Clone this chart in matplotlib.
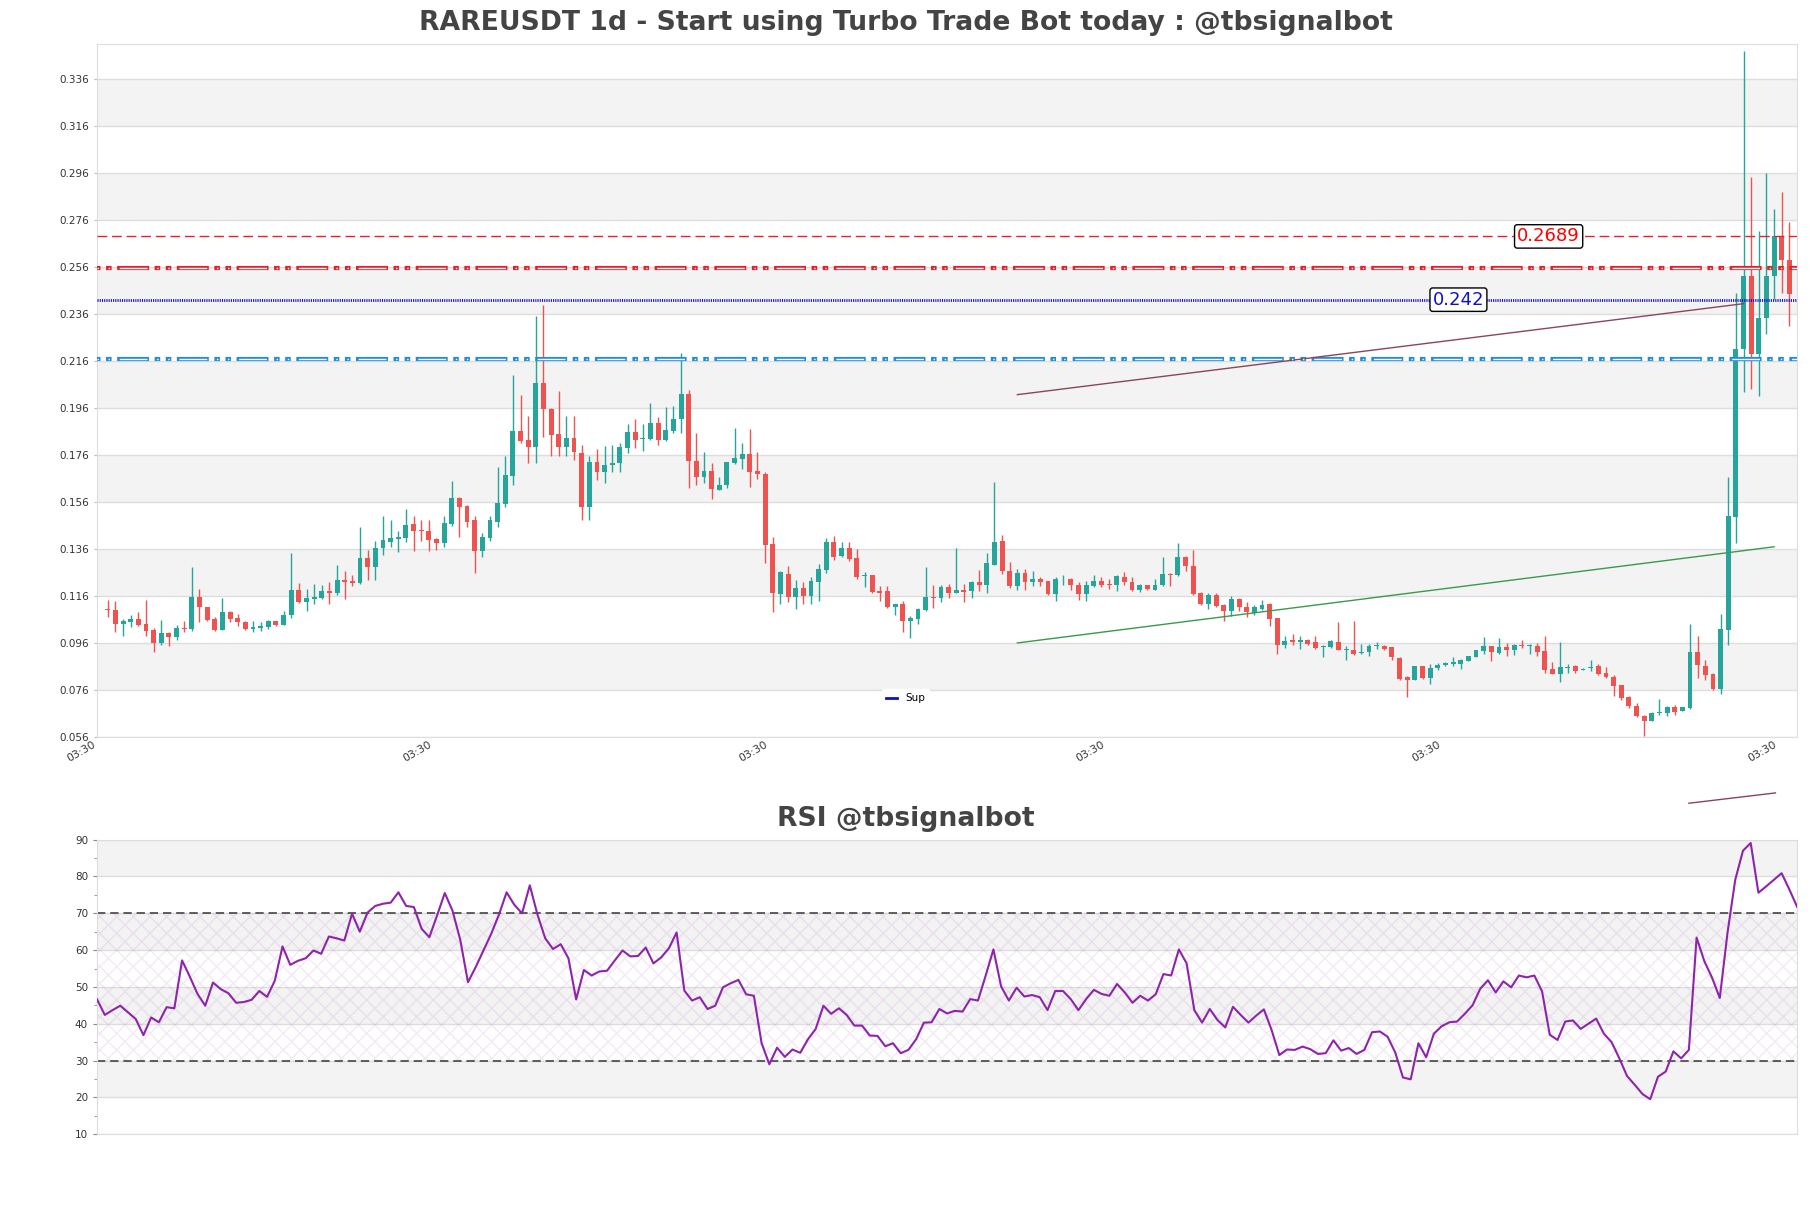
import numpy as np
import matplotlib
matplotlib.use('Agg')
import matplotlib.pyplot as plt
from matplotlib.lines import Line2D

# ---------------- data ----------------
opens = [0.1103,0.1100,0.1039,0.1049,0.1062,0.1041,0.1015,0.0959,0.1004,0.0987,
 0.1025,0.1018,0.1157,0.1112,0.1062,0.1015,0.1092,0.1065,0.1051,0.1021,
 0.1025,0.1027,0.1054,0.1037,0.1079,0.1186,0.1134,0.1149,0.1153,0.1183,
 0.1171,0.1228,0.1224,0.1217,0.1323,0.1285,0.1363,0.1391,0.1404,0.1408,
 0.1466,0.1441,0.1438,0.1403,0.1387,0.1466,0.1576,0.1543,0.1483,0.1353,
 0.1408,0.1476,0.1551,0.1672,0.1862,0.1824,0.1793,0.2065,0.1956,0.1848,
 0.1795,0.1831,0.1767,0.1540,0.1729,0.1689,0.1718,0.1725,0.1791,0.1856,
 0.1828,0.1826,0.1895,0.1824,0.1863,0.1912,0.2018,0.1734,0.1664,0.1692,
 0.1611,0.1631,0.1725,0.1743,0.1764,0.1692,0.1679,0.1381,0.1169,0.1254,
 0.1157,0.1195,0.1160,0.1221,0.1271,0.1391,0.1330,0.1363,0.1320,0.1244,
 0.1249,0.1183,0.1181,0.1112,0.1126,0.1055,0.1062,0.1100,0.1154,0.1150,
 0.1197,0.1174,0.1186,0.1180,0.1220,0.1208,0.1293,0.1395,0.1268,0.1204,
 0.1258,0.1218,0.1230,0.1222,0.1170,0.1230,0.1234,0.1208,0.1170,0.1201,
 0.1225,0.1211,0.1208,0.1241,0.1220,0.1187,0.1208,0.1187,0.1205,0.1255,
 0.1248,0.1325,0.1289,0.1173,0.1126,0.1163,0.1123,0.1095,0.1147,0.1113,
 0.1088,0.1105,0.1127,0.1064,0.0953,0.0971,0.0963,0.0974,0.0963,0.0943,
 0.0943,0.0964,0.0932,0.0932,0.0917,0.0920,0.0946,0.0949,0.0942,0.0896,
 0.0815,0.0804,0.0861,0.0811,0.0854,0.0865,0.0869,0.0871,0.0885,0.0899,
 0.0925,0.0946,0.0918,0.0942,0.0929,0.0949,0.0949,0.0949,0.0924,0.0849,
 0.0830,0.0852,0.0864,0.0845,0.0852,0.0862,0.0834,0.0815,0.0780,0.0731,
 0.0693,0.0649,0.0630,0.0662,0.0664,0.0687,0.0672,0.0682,0.0921,0.0864,
 0.0830,0.0763,0.1016,0.1494,0.2212,0.2519,0.2187,0.2343,0.2519,0.2690,
 0.2589]
highs = [0.1143,0.1139,0.1062,0.1079,0.1092,0.1143,0.1022,0.1058,0.1008,0.1037,
 0.1054,0.1285,0.1190,0.1115,0.1069,0.1153,0.1096,0.1083,0.1054,0.1054,
 0.1051,0.1058,0.1054,0.1096,0.1344,0.1214,0.1190,0.1210,0.1207,0.1221,
 0.1292,0.1264,0.1249,0.1455,0.1356,0.1394,0.1500,0.1483,0.1438,0.1529,
 0.1500,0.1483,0.1483,0.1405,0.1498,0.1649,0.1580,0.1547,0.1500,0.1427,
 0.1498,0.1710,0.1753,0.2100,0.2015,0.1926,0.2349,0.2398,0.1959,0.2032,
 0.1926,0.1926,0.1803,0.1753,0.1784,0.1798,0.1800,0.1810,0.1890,0.1913,
 0.1890,0.1980,0.1923,0.1963,0.1969,0.2193,0.2034,0.1852,0.1771,0.1725,
 0.1665,0.1729,0.1876,0.1810,0.1870,0.1771,0.1689,0.1409,0.1268,0.1288,
 0.1228,0.1221,0.1242,0.1295,0.1407,0.1414,0.1388,0.1388,0.1359,0.1261,
 0.1249,0.1203,0.1203,0.1126,0.1139,0.1075,0.1108,0.1285,0.1207,0.1207,
 0.1210,0.1363,0.1211,0.1222,0.1269,0.1343,0.1644,0.1417,0.1305,0.1276,
 0.1275,0.1268,0.1241,0.1225,0.1239,0.1251,0.1237,0.1220,0.1225,0.1247,
 0.1239,0.1234,0.1251,0.1262,0.1241,0.1211,0.1208,0.1234,0.1326,0.1258,
 0.1383,0.1329,0.1357,0.1176,0.1173,0.1173,0.1127,0.1159,0.1151,0.1133,
 0.1123,0.1144,0.1130,0.1066,0.0988,0.0998,0.0991,0.0977,0.0988,0.0950,
 0.0974,0.1049,0.0946,0.1055,0.0957,0.0957,0.0964,0.0950,0.0943,0.0899,
 0.0818,0.0864,0.0864,0.0872,0.0875,0.0879,0.0900,0.0892,0.0906,0.0932,
 0.0984,0.0949,0.0981,0.0960,0.0956,0.0971,0.0957,0.0959,0.0991,0.0877,
 0.0963,0.0871,0.0868,0.0853,0.0887,0.0871,0.0858,0.0824,0.0782,0.0735,
 0.0706,0.0653,0.0668,0.0720,0.0693,0.0697,0.0687,0.1042,0.0991,0.0887,
 0.0833,0.1082,0.1665,0.2449,0.3478,0.2940,0.2713,0.2959,0.2804,0.2880,
 0.2751]
lows = [0.1069,0.1008,0.0991,0.1027,0.1034,0.0991,0.0923,0.0951,0.0949,0.0973,
 0.1008,0.1012,0.1051,0.1055,0.1012,0.1015,0.1051,0.1034,0.1015,0.1008,
 0.1012,0.1020,0.1030,0.1037,0.1068,0.1132,0.1096,0.1126,0.1146,0.1126,
 0.1164,0.1147,0.1203,0.1211,0.1228,0.1228,0.1334,0.1370,0.1346,0.1388,
 0.1349,0.1395,0.1353,0.1356,0.1370,0.1459,0.1412,0.1455,0.1256,0.1327,
 0.1395,0.1455,0.1540,0.1632,0.1810,0.1725,0.1725,0.1835,0.1753,0.1756,
 0.1756,0.1736,0.1481,0.1481,0.1654,0.1642,0.1689,0.1689,0.1767,0.1791,
 0.1778,0.1824,0.1800,0.1820,0.1855,0.1852,0.1621,0.1630,0.1639,0.1573,
 0.1611,0.1617,0.1720,0.1700,0.1625,0.1658,0.1299,0.1093,0.1125,0.1136,
 0.1103,0.1126,0.1126,0.1139,0.1259,0.1313,0.1325,0.1310,0.1232,0.1197,
 0.1171,0.1140,0.1108,0.1079,0.1008,0.0980,0.1041,0.1098,0.1108,0.1133,
 0.1150,0.1171,0.1136,0.1151,0.1180,0.1173,0.1290,0.1254,0.1194,0.1184,
 0.1187,0.1201,0.1201,0.1163,0.1137,0.1208,0.1187,0.1142,0.1137,0.1197,
 0.1197,0.1191,0.1180,0.1208,0.1183,0.1176,0.1187,0.1187,0.1201,0.1201,
 0.1244,0.1265,0.1166,0.1123,0.1105,0.1113,0.1052,0.1073,0.1095,0.1071,
 0.1081,0.1102,0.1034,0.0915,0.0939,0.0953,0.0935,0.0953,0.0935,0.0900,
 0.0939,0.0929,0.0886,0.0910,0.0915,0.0906,0.0936,0.0932,0.0886,0.0804,
 0.0730,0.0801,0.0808,0.0787,0.0844,0.0861,0.0861,0.0851,0.0882,0.0899,
 0.0915,0.0885,0.0915,0.0906,0.0908,0.0939,0.0915,0.0906,0.0833,0.0830,
 0.0792,0.0833,0.0833,0.0843,0.0839,0.0824,0.0811,0.0735,0.0716,0.0684,
 0.0644,0.0564,0.0630,0.0655,0.0649,0.0655,0.0672,0.0678,0.0811,0.0801,
 0.0760,0.0744,0.0953,0.1384,0.2026,0.2041,0.2012,0.2272,0.2424,0.2449,
 0.2310]
closes = [0.1099,0.1039,0.1054,0.1062,0.1037,0.1011,0.0961,0.1004,0.0987,0.1024,
 0.1021,0.1157,0.1112,0.1058,0.1015,0.1092,0.1062,0.1049,0.1020,0.1028,
 0.1034,0.1054,0.1037,0.1079,0.1186,0.1134,0.1153,0.1157,0.1183,0.1171,
 0.1228,0.1221,0.1217,0.1323,0.1285,0.1363,0.1398,0.1407,0.1410,0.1461,
 0.1438,0.1435,0.1398,0.1383,0.1469,0.1576,0.1540,0.1476,0.1353,0.1410,
 0.1481,0.1557,0.1675,0.1862,0.1821,0.1795,0.2065,0.1954,0.1845,0.1795,
 0.1831,0.1770,0.1540,0.1729,0.1689,0.1717,0.1726,0.1794,0.1856,0.1824,
 0.1831,0.1895,0.1824,0.1866,0.1913,0.2018,0.1732,0.1664,0.1692,0.1614,
 0.1632,0.1729,0.1746,0.1764,0.1689,0.1679,0.1377,0.1174,0.1261,0.1157,
 0.1195,0.1160,0.1224,0.1273,0.1388,0.1327,0.1363,0.1319,0.1242,0.1249,
 0.1178,0.1174,0.1112,0.1126,0.1055,0.1065,0.1103,0.1154,0.1150,0.1197,
 0.1174,0.1186,0.1176,0.1220,0.1208,0.1298,0.1391,0.1265,0.1204,0.1258,
 0.1218,0.1230,0.1218,0.1170,0.1234,0.1234,0.1205,0.1170,0.1205,0.1225,
 0.1208,0.1208,0.1244,0.1218,0.1187,0.1208,0.1191,0.1208,0.1254,0.1248,
 0.1325,0.1286,0.1170,0.1126,0.1166,0.1119,0.1095,0.1149,0.1112,0.1090,
 0.1113,0.1123,0.1062,0.0953,0.0970,0.0963,0.0974,0.0957,0.0939,0.0949,
 0.0967,0.0929,0.0936,0.0915,0.0922,0.0949,0.0950,0.0935,0.0899,0.0808,
 0.0801,0.0861,0.0811,0.0854,0.0868,0.0875,0.0878,0.0889,0.0903,0.0932,
 0.0946,0.0920,0.0942,0.0928,0.0953,0.0946,0.0953,0.0921,0.0843,0.0830,
 0.0858,0.0858,0.0839,0.0849,0.0858,0.0830,0.0815,0.0777,0.0725,0.0693,
 0.0649,0.0630,0.0664,0.0668,0.0687,0.0668,0.0687,0.0921,0.0868,0.0824,
 0.0763,0.1019,0.1498,0.2212,0.2519,0.2187,0.2343,0.2519,0.2690,0.2589,
 0.2443]
rsi = [46.6,42.4,43.7,44.9,43.1,41.3,36.9,41.7,40.4,44.5,
 44.2,57.2,52.8,48.1,44.9,51.2,49.4,48.3,45.7,45.9,
 46.5,48.9,47.3,51.7,61.0,56.0,57.1,57.8,59.9,59.0,
 63.7,63.2,62.6,69.9,65.0,70.2,72.0,72.6,72.9,75.7,
 72.0,71.7,65.8,63.5,69.4,75.5,70.7,62.8,51.3,55.4,
 59.9,64.4,69.6,75.7,72.3,70.0,77.6,69.6,63.2,60.3,
 61.6,57.8,46.6,54.6,53.1,54.2,54.4,57.2,59.9,58.3,
 58.4,60.7,56.4,58.0,60.5,64.8,49.0,46.3,47.2,44.0,
 44.9,49.9,51.0,51.9,48.0,47.6,34.7,29.0,33.5,31.0,
 33.0,32.1,35.8,38.6,44.9,42.7,44.2,42.4,39.5,39.5,
 36.8,36.7,33.9,34.7,32.0,32.9,35.8,40.3,40.4,44.0,
 42.8,43.5,43.3,46.7,46.3,53.1,60.2,50.1,46.3,49.8,
 47.4,47.8,47.2,43.7,48.9,48.9,46.7,43.7,46.7,49.2,
 48.1,47.6,50.8,48.5,45.7,47.6,46.3,48.0,53.5,53.1,
 60.2,56.4,43.7,40.3,44.0,41.0,39.0,44.6,42.4,40.3,
 42.2,43.9,38.3,31.5,33.0,32.9,33.8,33.1,31.8,32.0,
 35.5,32.7,33.4,31.8,32.9,37.7,37.9,36.5,32.2,25.4,
 24.9,34.7,30.9,37.3,39.3,40.4,40.6,42.7,45.0,49.5,
 51.8,48.5,51.5,49.9,53.1,52.6,53.1,48.8,37.0,35.6,
 40.6,40.9,38.6,40.0,41.4,37.3,35.0,30.6,25.8,23.4,
 20.9,19.5,25.6,27.0,32.5,30.6,32.9,63.4,57.0,52.5,
 47.0,64.7,79.1,87.0,89.1,75.6,77.3,79.1,80.9,76.5,
 71.8]

resistance = 0.2689
res_zone = 0.2553
support = 0.242
sup_zone = 0.2167
upper_trend_x = [119, 214]
upper_trend_y = [0.2016, 0.2403]
lower_trend_x = [119, 218]
lower_trend_y = [0.0960, 0.1369]
rsi_trend_x = [206, 217.2]
rsi_trend_y = [99.9, 102.7]
xtick_pos = [0, 44, 88, 132, 176, 220]
xtick_labels = ['03:30'] * 6
title = 'RAREUSDT 1d - Start using Turbo Trade Bot today : @tbsignalbot'
rsi_title = 'RSI @tbsignalbot'

# ---------------- figure ----------------
plt.rcParams['lines.scale_dashes'] = False
GREEN = '#26a69a'
RED = '#ef5350'
BAND = '#f3f3f3'
GRID = '#dddddd'
TXT = '#444444'

fig = plt.figure(figsize=(18.11, 12.08), dpi=100)
ax = fig.add_axes([0.0536, 0.3899, 0.9387, 0.5738])
ax2 = fig.add_axes([0.0536, 0.0611, 0.9387, 0.2438])

n = len(closes)
x = np.arange(n)
o = np.array(opens); h = np.array(highs); l = np.array(lows); c = np.array(closes)
up = c >= o
cols = np.where(up, GREEN, RED)

ymin, ymax = 0.056, 0.3508
yt = np.round(np.arange(0.056, 0.337, 0.02), 3)
for k in range(len(yt) - 1):
    if k % 2 == 1:
        ax.axhspan(yt[k], yt[k + 1], color=BAND, lw=0, zorder=0)
for v in yt:
    ax.axhline(v, color=GRID, lw=1, zorder=0.5)

ax.vlines(x, l, h, colors=cols, lw=1, zorder=2)
body_lo = np.minimum(o, c)
body_h = np.maximum(np.abs(c - o), 0.00035)
ax.bar(x, body_h, bottom=body_lo, width=0.64, color=cols, lw=0, zorder=3)

# horizontal levels
ax.axhline(resistance, color='#e8202a', lw=1, ls=(0, (7, 3.5)), zorder=4)
pat = (0, (1.0, 7.0, 1.0, 7.0, 20.0, 7.0))
for yv, cc in [(res_zone, '#e8202a'), (sup_zone, '#1f8fdc')]:
    ax.axhline(yv, color=cc, lw=3.0, ls=pat, dash_capstyle='projecting', zorder=4)
    ax.axhline(yv, color='white', lw=1.0, ls=pat, dash_capstyle='butt', zorder=4.1)
ax.axhline(support, color='#1010c8', lw=2.0, ls=(0, (0.8, 0.8)), zorder=4)

ax.plot(upper_trend_x, upper_trend_y, color='#8b4557', lw=1, zorder=4)
ax.plot(lower_trend_x, lower_trend_y, color='#3a9a4c', lw=1, zorder=4)

ax.text(188.5, resistance, '%.4f' % resistance, color='red', fontsize=13,
        ha='center', va='center', zorder=6,
        bbox=dict(boxstyle='round,pad=0.15', fc='white', ec='black', lw=1))
ax.text(176.7, support, '%.3f' % support, color='#1010c8', fontsize=13,
        ha='center', va='center', zorder=6,
        bbox=dict(boxstyle='round,pad=0.15', fc='white', ec='black', lw=1))

ax.set_xlim(-1.05, n)
ax.set_ylim(ymin, ymax)
ax.set_yticks(yt)
ax.set_yticklabels(['%.3f' % v for v in yt], fontsize=7.5, color='#333333')
ax.set_xticks(np.array(xtick_pos) - 1.4)
ax.set_xticklabels(xtick_labels, rotation=30, ha='right', fontsize=7.8, color='#333333')
ax.tick_params(axis='y', length=2, color='#bbbbbb')
ax.tick_params(axis='x', length=0, pad=1.5)
for s in ax.spines.values():
    s.set_color('#dddddd')

leg = ax.legend(handles=[Line2D([], [], color='#1010c8', lw=2)], labels=['Sup'],
                loc='lower center', bbox_to_anchor=(0.4756, 0.035), fontsize=7.5,
                frameon=True, edgecolor='white', facecolor='white', framealpha=1,
                handlelength=1.0, borderpad=0.4)
leg.set_zorder(7)

fig.text(0.5, 0.981, title, ha='center', va='center', fontsize=19.2,
         fontweight='bold', color=TXT)

# ---------------- RSI ----------------
rt = np.arange(10, 91, 10)
for k in range(len(rt) - 1):
    if k % 2 == 1:
        ax2.axhspan(rt[k], rt[k + 1], color=BAND, lw=0, zorder=0)
for v in rt:
    ax2.axhline(v, color=GRID, lw=1, zorder=0.5)
ax2.axhspan(30, 70, facecolor='none', hatch='xx', edgecolor=(0.62, 0.35, 0.72, 0.13),
            lw=0, zorder=0.6)
ax2.axhline(70, color='#444444', lw=1.2, ls=(0, (6, 3.5)), zorder=2)
ax2.axhline(30, color='#444444', lw=1.2, ls=(0, (6, 3.5)), zorder=2)
ax2.plot(x, rsi, color='#8e24aa', lw=1.5, zorder=3)
ax2.plot(rsi_trend_x, rsi_trend_y, color='#8b4557', lw=1, clip_on=False, zorder=3)
ax2.set_xlim(0, n - 1)
ax2.set_ylim(10, 90)
ax2.set_yticks(rt)
ax2.set_yticks(np.arange(15, 90, 10), minor=True)
ax2.set_yticklabels([str(v) for v in rt], fontsize=7.5, color='#333333')
ax2.set_xticks([])
ax2.tick_params(axis='y', which='major', length=3, color='#888888')
ax2.tick_params(axis='y', which='minor', length=2, color='#888888')
for s in ax2.spines.values():
    s.set_color('#dddddd')
fig.text(0.5, 0.322, rsi_title, ha='center', va='center', fontsize=19.2,
         fontweight='bold', color=TXT)

fig.savefig('out.png', dpi=100)
